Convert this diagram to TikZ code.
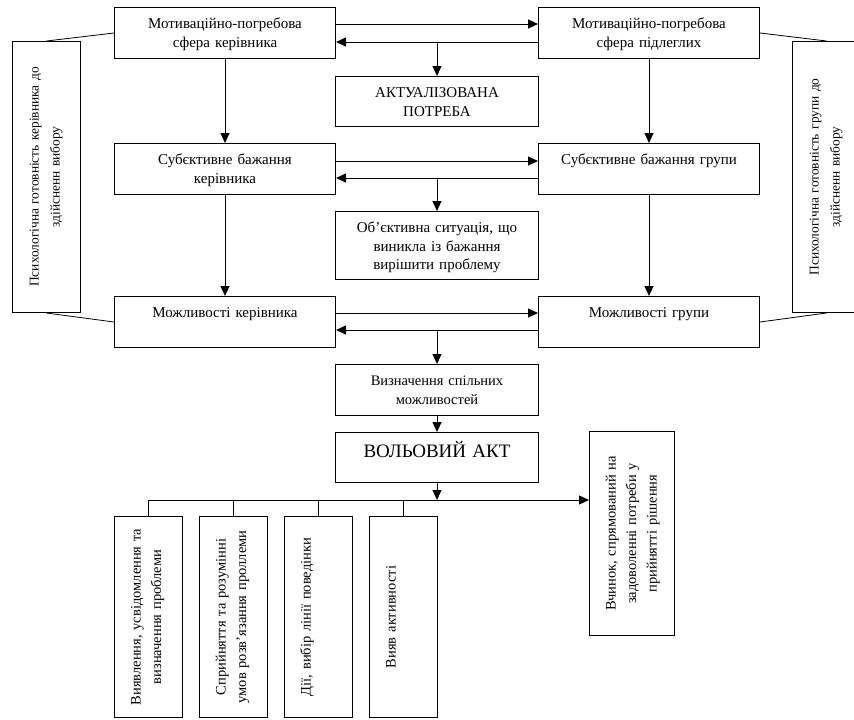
\documentclass[tikz,border=0pt]{standalone}
\usepackage{fontspec}
\setmainfont{Liberation Serif}
\usetikzlibrary{arrows.meta}
\tikzset{
  box/.style={draw, line width=1pt, inner xsep=2pt, inner ysep=5pt, align=center,
    text height=16pt, anchor=north west, font=\fontsize{15}{18.5}\selectfont},
  vbox/.style={box, rotate=90, text height=21pt, font=\fontsize{14.5}{20.5}\selectfont},
  sidebox/.style={vbox, font=\fontsize{13.4}{21}\selectfont},
  arr/.style={line width=1pt, -{Triangle[length=10pt,width=9pt]}},
  ln/.style={line width=1pt},
  sideln/.style={line width=0.8pt}
}
\begin{document}
\begin{tikzpicture}[x=1pt,y=-1pt]
\useasboundingbox (0,0) rectangle (854,720);
% main boxes
\node[box, text width=217pt, text depth=25pt] (mk) at (114,7) {Мотиваційно-погребова\\сфера керівника};
\node[box, text width=217pt, text depth=25pt] (mp) at (538,7) {Мотиваційно-погребова\\сфера підлеглих};
\node[box, text width=199pt, text depth=24pt] (ap) at (335,76) {АКТУАЛІЗОВАНА\\ПОТРЕБА};
\node[box, text width=217pt, text depth=25pt] (sk) at (114,143) {Субєктивне бажання\\керівника};
\node[box, text width=217pt, text depth=25pt] (sg) at (538,143) {Субєктивне бажання групи};
\node[box, text width=199pt, text depth=42pt] (ob) at (335,211) {Об’єктивна ситуація, що\\виникла із бажання\\вирішити проблему};
\node[box, text width=217pt, text depth=25pt] (mkr) at (114,296) {Можливості керівника};
\node[box, text width=217pt, text depth=25pt] (mg) at (538,296) {Можливості групи};
\node[box, text width=199pt, text depth=25pt, font=\fontsize{14.5}{18.5}\selectfont] (vz) at (335,364) {Визначення спільних\\можливостей};
\node[box, text width=199pt, text height=20pt, text depth=20pt, font=\fontsize{19}{22}\selectfont] (va) at (335,432) {ВОЛЬОВИЙ АКТ};
% side boxes (rotated)
\node[sidebox, text width=267pt, text depth=37pt] (ls) at (12,313) {Психологічна готовність керівника до\\здійсненн вибору};
\node[sidebox, text width=267pt, text depth=37pt] (rs) at (792,313) {Психологічна готовність групи до\\здійсненн вибору};
% bottom boxes (rotated)
\node[vbox, text width=197pt, text depth=37pt] (b1) at (114,718) {Виявлення, усвідомлення та\\визначення проблеми};
\node[vbox, text width=197pt, text depth=37pt] (b2) at (199,718) {Сприйняття та розумінні\\умов розв’язання проллеми};
\node[vbox, text width=197pt, text depth=37pt] (b3) at (284,718) {Дії, вибір лінії поведінки};
\node[vbox, text width=197pt, text depth=37pt] (b4) at (369,718) {Вияв активності};
\node[vbox, text width=200pt, text depth=54pt] (vch) at (589,636) {Вчинок, спрямований на\\задоволенні потреби у\\прийнятті рішення};
% horizontal pairs
\coordinate (a1) at ([yshift=-17pt]mk.north east);
\coordinate (a2) at ([yshift=-35pt]mp.north west);
\draw[arr] (a1) -- (a1 -| mp.west);
\draw[arr] (a2) -- (a2 -| mk.east);
\draw[arr] (a2 -| ap.north) -- (ap.north);
\coordinate (c1) at ([yshift=-18pt]sk.north east);
\coordinate (c2) at ([yshift=-35pt]sg.north west);
\draw[arr] (c1) -- (c1 -| sg.west);
\draw[arr] (c2) -- (c2 -| sk.east);
\draw[arr] (c2 -| ob.north) -- (ob.north);
\coordinate (d1) at ([yshift=-17pt]mkr.north east);
\coordinate (d2) at ([yshift=-34pt]mg.north west);
\draw[arr] (d1) -- (d1 -| mg.west);
\draw[arr] (d2) -- (d2 -| mkr.east);
\draw[arr] (d2 -| vz.north) -- (vz.north);
% vertical arrows
\draw[arr] (mk) -- (sk);
\draw[arr] (mp) -- (sg);
\draw[arr] (sk) -- (mkr);
\draw[arr] (sg) -- (mg);
\draw[arr] (vz) -- (va);
% bottom distribution
\coordinate (h) at ([yshift=-17pt]va.south);
\draw[arr] (va.south) -- (h);
\draw[arr] (b1.east |- h) -- (h -| vch.north);
\foreach \b in {b1,b2,b3,b4} \draw[ln] (\b.east |- h) -- (\b.east);
% side connectors
\draw[sideln] (ls.east) -- (mk.west);
\draw[sideln] (ls.west) -- (mkr.west);
\draw[sideln] (rs.east) -- (mp.east);
\draw[sideln] (rs.west) -- (mg.east);
\end{tikzpicture}
\end{document}
